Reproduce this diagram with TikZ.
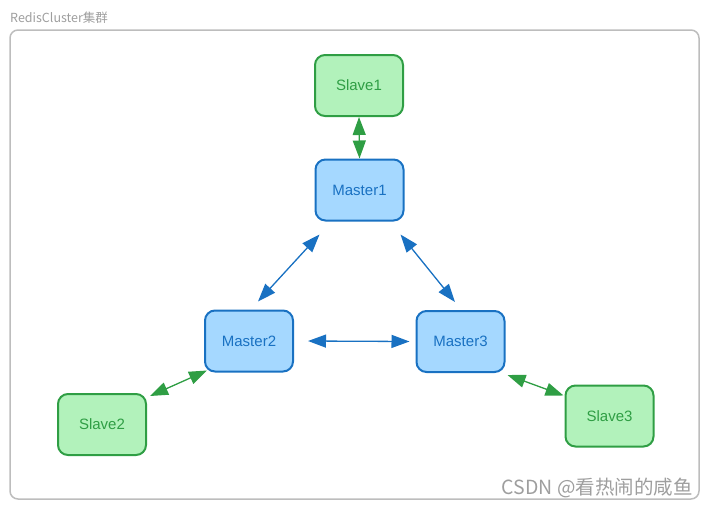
\documentclass[tikz,border=0pt]{standalone}
\usepackage{fontspec}
\setmainfont{Liberation Sans}
\newfontfamily\cjk{Noto Sans CJK SC}
\usetikzlibrary{arrows.meta,calc}
\definecolor{gfill}{HTML}{B2F2BB}
\definecolor{gline}{HTML}{2F9E44}
\definecolor{bfill}{HTML}{A5D8FF}
\definecolor{bline}{HTML}{1971C2}
\definecolor{frame}{HTML}{BDBDBD}
\definecolor{titlec}{HTML}{9E9E9E}
\tikzset{
  box/.style={rounded corners=10pt, line width=2pt, minimum width=88pt, minimum height=61pt,
    font=\fontsize{15}{17}\selectfont, inner sep=0pt},
  slavebox/.style={box, draw=gline, fill=gfill, text=gline},
  masterbox/.style={box, draw=bline, fill=bfill, text=bline},
  barr/.style={line width=1.3pt, {Triangle[length=18pt,width=13pt]}-{Triangle[length=18pt,width=13pt]}},
  garr/.style={barr, draw=gline, fill=gline},
  marr/.style={barr, draw=bline, fill=bline},
}
\begin{document}
\begin{tikzpicture}[x=1pt,y=-1pt]
\useasboundingbox (0,0) rectangle (709,509);
\draw[frame, line width=1.5pt, rounded corners=8pt] (10,30) rectangle (699,499);
\node[anchor=west, text=titlec, font=\cjk\fontsize{12.5}{14}\selectfont, inner sep=0pt] (title) at (10,18) {RedisCluster集群};
\node[anchor=east, text=titlec, font=\cjk\fontsize{19.5}{21}\selectfont, inner sep=0pt] (mark) at (693,488) {CSDN @看热闹的咸鱼};

\node[slavebox] (s1) at (359,85.5) {Slave1};
\node[masterbox] (m1) at (359.5,190) {Master1};
\node[masterbox] (m2) at (249,341) {Master2};
\node[masterbox] (m3) at (460.5,341.5) {Master3};
\node[slavebox] (s2) at (102,424.5) {Slave2};
\node[slavebox] (s3) at (609.5,416) {Slave3};

\draw[garr] (s1.south) -- (m1.north);
\draw[marr] ($(m1.south west)+(5,13)$) -- ($(m2.north)+(9,-8)$);
\draw[marr] ($(m1.south east)+(-4,13)$) -- ($(m3.north)+(-5.5,-8)$);
\draw[marr] ($(m2.east)+(14,0)$) -- ($(m3.west)+(-6,0)$);
\draw[garr] ($(m2.south west)+(3,-2)$) -- ($(s2.north east)+(3,3)$);
\draw[garr] ($(m3.south east)+(2,2)$) -- ($(s3.north west)+(-1,11)$);
\end{tikzpicture}
\end{document}
